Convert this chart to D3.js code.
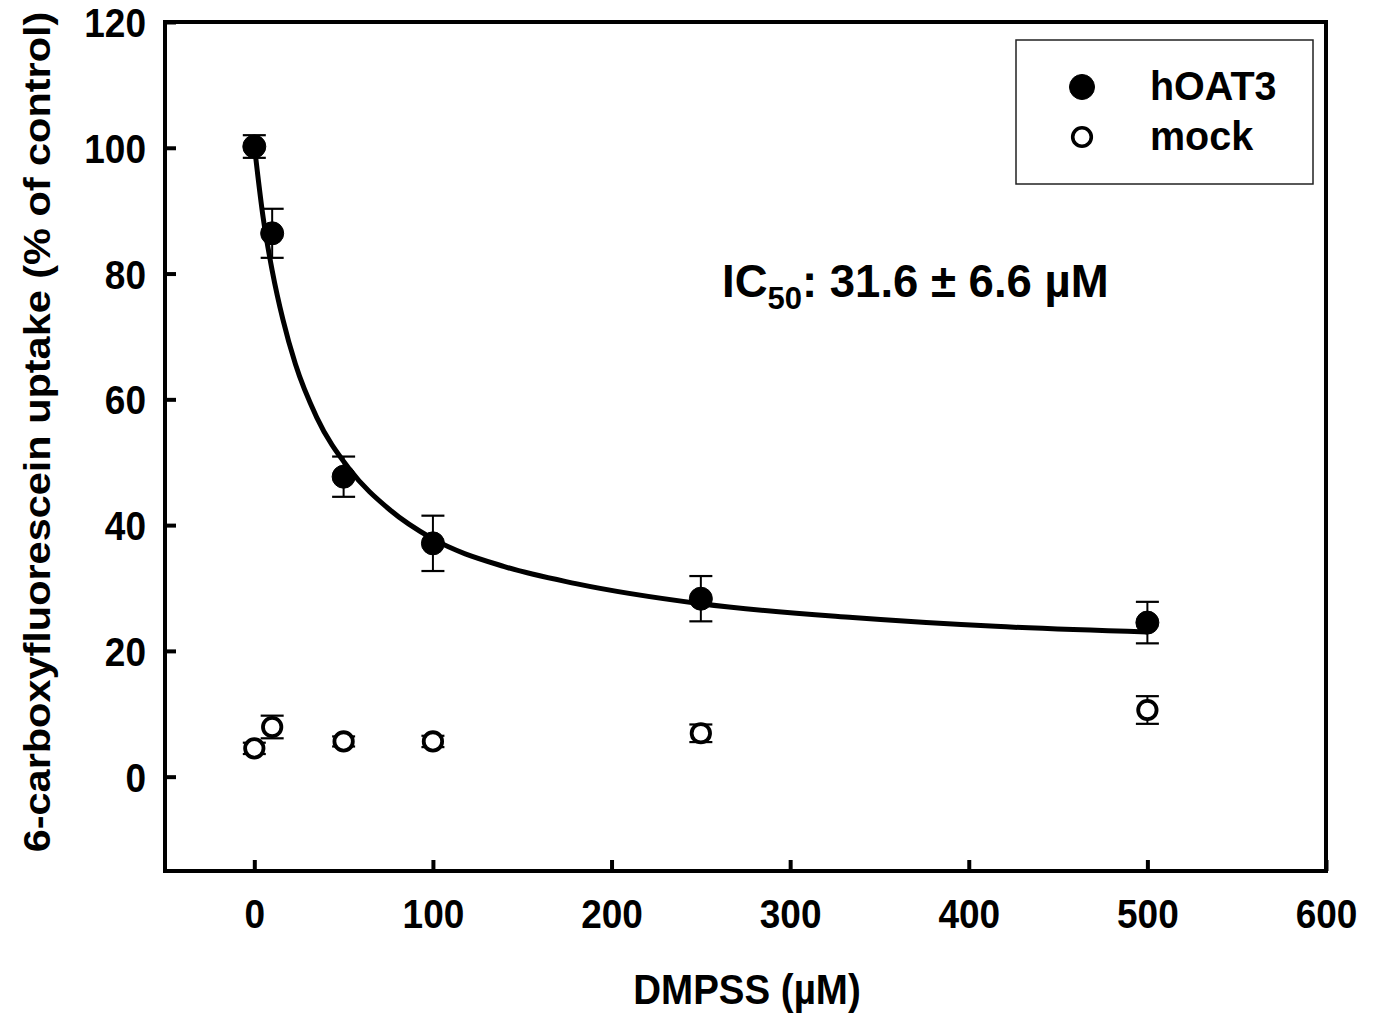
<!DOCTYPE html>
<html>
<head>
<meta charset="utf-8">
<script src="https://cdn.jsdelivr.net/npm/d3@7"></script>
<style>
  body { margin: 0; background: #fff; }
  svg text { font-family: "Liberation Sans", Arial, sans-serif; font-weight: bold; fill: #000; }
</style>
</head>
<body>
<svg width="1376" height="1015"></svg>
<script>
let svg = d3.select("svg");

// DMPSS concentration (uM)
let conc = [0, 10, 50, 100, 250, 500];
// hOAT3 uptake (% of control) and SEM
let hoat3 = [100.2, 86.4, 47.7, 37.1, 28.3, 24.5];
let hoat3Err = [1.8, 3.9, 3.2, 4.4, 3.6, 3.3];
// mock cells
let mock = [4.5, 7.9, 5.6, 5.6, 6.9, 10.6];
let mockErr = [0.9, 1.8, 0.8, 0.9, 1.4, 2.2];

// fitted curve
let fitX = [0, 5, 10, 16, 23, 35, 53, 76, 100, 140, 180, 250, 335, 415, 500];
let fitY = [100.4, 88.8, 80.5, 72.7, 65.6, 57.1, 49, 42.4, 37.8, 33.4, 30.7, 27.5, 25.3, 23.9, 23.0];

let xTicks = [0, 100, 200, 300, 400, 500, 600];
let yTicks = [0, 20, 40, 60, 80, 100, 120];

let x = d3.scaleLinear().domain([-50, 600]).range([165, 1326]);
let y = d3.scaleLinear().domain([-15, 120]).range([871, 22]);

//Stretch factor for glyph height (original looks taller than wide)
let stretch = 1.1;

// curve
svg.append("path")
    .datum(fitX.map((d, i) => [d, fitY[i]]))
    .attr("fill", "none")
    .attr("stroke", "#000")
    .attr("stroke-width", 5)
    .attr("d", d3.line()
        .x(d => x(d[0]))
        .y(d => y(d[1]))
        .curve(d3.curveMonotoneX));

/**
* Error bars with caps, then markers on top
*/
function drawSeries(vals, errs, filled, r){
    let g = svg.append("g");
    let capW = 11.5;
    conc.forEach((c, i) => {
        let cx = x(c), lo = y(vals[i] - errs[i]), hi = y(vals[i] + errs[i]);
        g.append("line").attr("x1", cx).attr("x2", cx).attr("y1", lo).attr("y2", hi)
            .attr("stroke", "#000").attr("stroke-width", 2);
        [lo, hi].forEach(v => {
            g.append("line").attr("x1", cx - capW).attr("x2", cx + capW)
                .attr("y1", v).attr("y2", v)
                .attr("stroke", "#000").attr("stroke-width", 2.2);
        });
    });
    g.selectAll("circle")
        .data(vals).enter().append("circle")
            .attr("cx", (d, i) => x(conc[i]))
            .attr("cy", d => y(d))
            .attr("r", r)
            .attr("fill", filled ? "#000" : "#fff")
            .attr("stroke", "#000")
            .attr("stroke-width", filled ? 1 : 3.8);
}
drawSeries(mock, mockErr, false, 9.2);
drawSeries(hoat3, hoat3Err, true, 11.5);

// axes: ticks pointing inward
let xAxis = svg.append("g")
    .attr("transform", "translate(0,871)")
    .call(d3.axisBottom(x).tickValues(xTicks).tickSizeInner(-11).tickSizeOuter(0).tickPadding(0));
let yAxis = svg.append("g")
    .attr("transform", "translate(165,0)")
    .call(d3.axisLeft(y).tickValues(yTicks).tickSizeInner(-11).tickSizeOuter(0).tickPadding(19));

[xAxis, yAxis].forEach(a => {
    a.select(".domain").remove();
    a.selectAll(".tick line").attr("stroke", "#000").attr("stroke-width", 4);
    a.selectAll(".tick text").style("font-size", "37px").style("font-family", null);
});
xAxis.selectAll(".tick text")
    .attr("y", 0).attr("dy", 0)
    .attr("transform", "translate(0,57) scale(1," + stretch + ")");
yAxis.selectAll(".tick text")
    .attr("dy", 0)
    .attr("transform", "translate(0,14.5) scale(1," + stretch + ")");

// frame
svg.append("rect")
    .attr("x", 165).attr("y", 22)
    .attr("width", 1326 - 165).attr("height", 871 - 22)
    .attr("fill", "none").attr("stroke", "#000").attr("stroke-width", 4);

// axis titles
svg.append("text")
    .attr("text-anchor", "middle")
    .attr("transform", "translate(747,1004) scale(1," + stretch + ")")
    .style("font-size", "38.5px")
    .text("DMPSS (µM)");
svg.append("text")
    .attr("text-anchor", "middle")
    .attr("transform", "translate(50,432) rotate(-90) scale(" + stretch + ",1)")
    .style("font-size", "37.7px")
    .text("6-carboxyfluorescein uptake (% of control)");

// IC50 annotation
let ic = svg.append("text")
    .attr("x", 722).attr("y", 297)
    .style("font-size", "45.5px");
ic.append("tspan").text("IC");
ic.append("tspan").attr("dy", 12).style("font-size", "31px").text("50");
ic.append("tspan").attr("dy", -12).text(": 31.6 ± 6.6 µM");

// legend
let legend = svg.append("g");
legend.append("rect")
    .attr("x", 1016).attr("y", 40).attr("width", 297).attr("height", 144)
    .attr("fill", "#fff").attr("stroke", "#222").attr("stroke-width", 1.5);
let legendItems = [
    {name: "hOAT3", filled: true},
    {name: "mock", filled: false}
];
legendItems.forEach((d, i) => {
    let cy = 87 + i * 50;
    legend.append("circle")
        .attr("cx", 1082).attr("cy", cy)
        .attr("r", d.filled ? 12.5 : 9.3)
        .attr("fill", d.filled ? "#000" : "#fff")
        .attr("stroke", "#000").attr("stroke-width", d.filled ? 1 : 3.6);
    legend.append("text")
        .attr("transform", "translate(1150," + (cy + 13) + ") scale(1,1.05)")
        .style("font-size", "39.5px")
        .text(d.name);
});
</script>
</body>
</html>
